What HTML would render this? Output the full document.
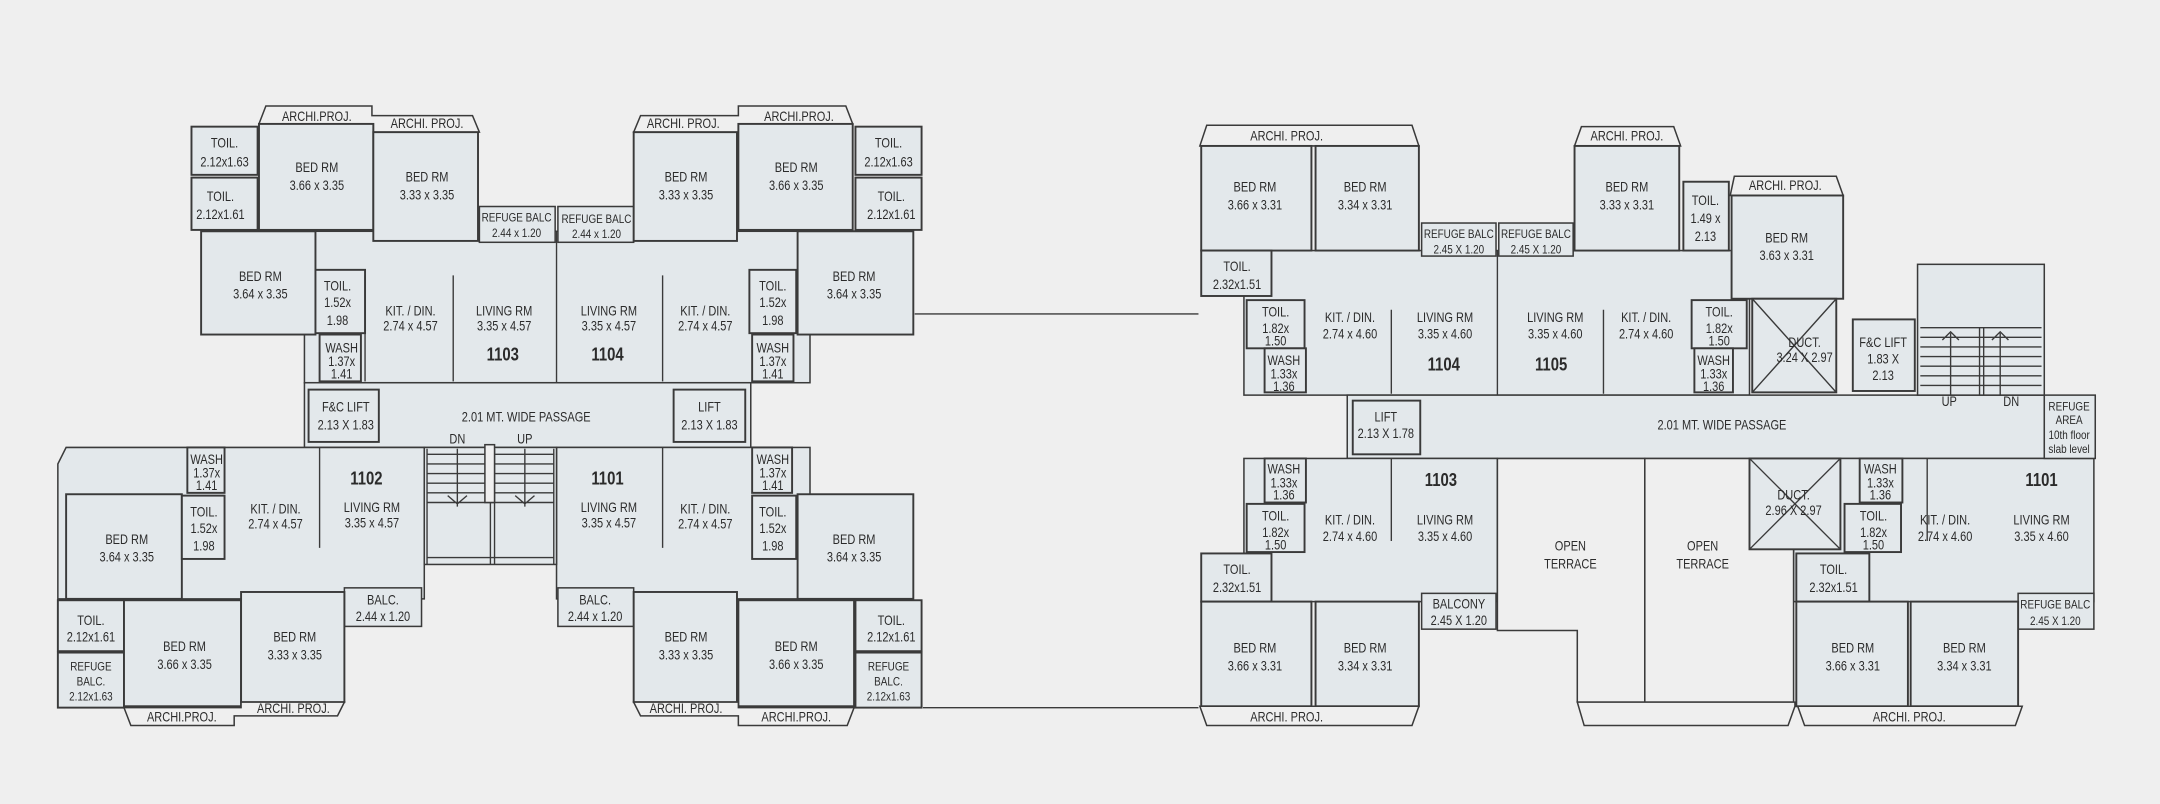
<!DOCTYPE html>
<html><head><meta charset="utf-8"><style>
html,body{margin:0;padding:0;background:#efefef;}
svg{display:block}
.b{fill:#e3e8eb;stroke:#3a3a3a;stroke-width:1.1}
.r{fill:#e3e8eb;stroke:#3a3a3a;stroke-width:1.4}
.t{fill:#e3e8eb;stroke:#3a3a3a;stroke-width:1.1}
.o{fill:#efefef;stroke:#3a3a3a;stroke-width:1.1}
.l{fill:none;stroke:#3a3a3a;stroke-width:1}
text{font-family:"Liberation Sans Narrow","Liberation Sans",sans-serif;font-size:10px;fill:#2b2b2b;text-anchor:middle;transform-box:fill-box;transform-origin:center;transform:scaleX(0.8)}
.n{font-size:13.5px;font-weight:bold}
.s{font-size:9px}
</style></head><body>
<svg width="2160" height="804" viewBox="0 0 1568 584" preserveAspectRatio="none" xmlns="http://www.w3.org/2000/svg">
<rect width="1568" height="584" fill="#efefef"/>
<path class="l" d="M664 228H870M670 514H870"/>

<!-- ===== LEFT BUILDING ===== -->
<path class="o" d="M188 90L193 77H270V84H343L348 96H271V90Z"/>
<path class="o" d="M460 96L465 84H536V77H614L619 90H536V96Z"/>
<text x="230" y="88">ARCHI.PROJ.</text><text x="310" y="93">ARCHI. PROJ.</text>
<text x="496" y="93">ARCHI. PROJ.</text><text x="580" y="88">ARCHI.PROJ.</text>
<rect class="b" x="221" y="168" width="367" height="110"/>
<rect class="b" x="221" y="278" width="324" height="47"/>
<path class="b" d="M48 325H308V435H42V337Z"/>
<rect class="b" x="404" y="325" width="184" height="110"/>
<rect class="b" x="308" y="325" width="96" height="85"/>
<rect class="r" x="139" y="92" width="48" height="35"/><text x="163" y="107">TOIL.</text><text x="163" y="121">2.12x1.63</text>
<rect class="r" x="139" y="129" width="48" height="38"/><text x="160" y="146">TOIL.</text><text x="160" y="159">2.12x1.61</text>
<rect class="r" x="188" y="90" width="83" height="77"/><text x="230" y="125">BED RM</text><text x="230" y="138">3.66 x 3.35</text>
<rect class="r" x="271" y="96" width="76" height="79"/><text x="310" y="132">BED RM</text><text x="310" y="145">3.33 x 3.35</text>
<rect class="t" x="348" y="150" width="55" height="26"/><text class="s" x="375" y="161">REFUGE BALC</text><text class="s" x="375" y="172">2.44 x 1.20</text>
<rect class="t" x="405" y="150" width="55" height="26"/><text class="s" x="433" y="162">REFUGE BALC</text><text class="s" x="433" y="173">2.44 x 1.20</text>
<rect class="r" x="460" y="96" width="75" height="79"/><text x="498" y="132">BED RM</text><text x="498" y="145">3.33 x 3.35</text>
<rect class="r" x="536" y="90" width="83" height="77"/><text x="578" y="125">BED RM</text><text x="578" y="138">3.66 x 3.35</text>
<rect class="r" x="621" y="92" width="48" height="35"/><text x="645" y="107">TOIL.</text><text x="645" y="121">2.12x1.63</text>
<rect class="r" x="621" y="129" width="48" height="38"/><text x="647" y="146">TOIL.</text><text x="647" y="159">2.12x1.61</text>
<rect class="r" x="146" y="168" width="83" height="75"/><text x="189" y="204">BED RM</text><text x="189" y="217">3.64 x 3.35</text>
<rect class="r" x="229" y="196" width="36" height="46"/><text x="245" y="211">TOIL.</text><text x="245" y="223">1.52x</text><text x="245" y="236">1.98</text>
<rect class="r" x="232" y="243" width="30" height="34"/><text x="248" y="256">WASH</text><text x="248" y="266">1.37x</text><text x="248" y="275">1.41</text>
<path class="l" d="M265 200V277M329 200V277M404 168V278M481 200V277"/>
<text x="298" y="229">KIT. / DIN.</text><text x="298" y="240">2.74 x 4.57</text>
<text x="366" y="229">LIVING RM</text><text x="366" y="240">3.35 x 4.57</text>
<text class="n" x="365" y="262">1103</text>
<text x="442" y="229">LIVING RM</text><text x="442" y="240">3.35 x 4.57</text>
<text class="n" x="441" y="262">1104</text>
<text x="512" y="229">KIT. / DIN.</text><text x="512" y="240">2.74 x 4.57</text>
<rect class="r" x="544" y="196" width="34" height="46"/><text x="561" y="211">TOIL.</text><text x="561" y="223">1.52x</text><text x="561" y="236">1.98</text>
<rect class="r" x="546" y="243" width="30" height="34"/><text x="561" y="256">WASH</text><text x="561" y="266">1.37x</text><text x="561" y="275">1.41</text>
<rect class="r" x="579" y="168" width="84" height="75"/><text x="620" y="204">BED RM</text><text x="620" y="217">3.64 x 3.35</text>
<rect class="r" x="224" y="283" width="51" height="38"/><text x="251" y="299">F&amp;C LIFT</text><text x="251" y="312">2.13 X 1.83</text>
<rect class="r" x="489" y="283" width="52" height="38"/><text x="515" y="299">LIFT</text><text x="515" y="312">2.13 X 1.83</text>
<text x="382" y="306">2.01  MT.  WIDE  PASSAGE</text>
<text x="332" y="322">DN</text><text x="381" y="322">UP</text>
<path class="l" d="M310 326V410M402 326V410M310 330H402M310 337H402M310 344H402M310 351H402M310 358H402M310 365H402M356 326V410M359 326V410M332 326V368M381 326V368M325 360L332 366L339 360M374 360L381 366L388 360M310 405H402"/>
<rect class="o" x="352" y="323" width="7" height="42" fill="#e3e8eb"/>
<rect class="r" x="136" y="325" width="27" height="33"/><text x="150" y="337">WASH</text><text x="150" y="347">1.37x</text><text x="150" y="356">1.41</text>
<rect class="r" x="48" y="359" width="84" height="76"/><text x="92" y="395">BED RM</text><text x="92" y="408">3.64 x 3.35</text>
<rect class="r" x="132" y="360" width="31" height="46"/><text x="148" y="375">TOIL.</text><text x="148" y="387">1.52x</text><text x="148" y="400">1.98</text>
<path class="l" d="M232 325V398M481 325V398"/>
<text x="200" y="373">KIT. / DIN.</text><text x="200" y="384">2.74 x 4.57</text>
<text class="n" x="266" y="352">1102</text>
<text x="270" y="372">LIVING RM</text><text x="270" y="383">3.35 x 4.57</text>
<text class="n" x="441" y="352">1101</text>
<text x="442" y="372">LIVING RM</text><text x="442" y="383">3.35 x 4.57</text>
<text x="512" y="373">KIT. / DIN.</text><text x="512" y="384">2.74 x 4.57</text>
<rect class="r" x="546" y="325" width="29" height="33"/><text x="561" y="337">WASH</text><text x="561" y="347">1.37x</text><text x="561" y="356">1.41</text>
<rect class="r" x="546" y="360" width="32" height="46"/><text x="561" y="375">TOIL.</text><text x="561" y="387">1.52x</text><text x="561" y="400">1.98</text>
<rect class="r" x="579" y="359" width="84" height="76"/><text x="620" y="395">BED RM</text><text x="620" y="408">3.64 x 3.35</text>
<rect class="t" x="250" y="427" width="56" height="28"/><text x="278" y="439">BALC.</text><text x="278" y="451">2.44 x 1.20</text>
<rect class="t" x="405" y="427" width="55" height="28"/><text x="432" y="439">BALC.</text><text x="432" y="451">2.44 x 1.20</text>
<rect class="r" x="42" y="436" width="48" height="37"/><text x="66" y="454">TOIL.</text><text x="66" y="466">2.12x1.61</text>
<rect class="r" x="42" y="474" width="48" height="40"/><text class="s" x="66" y="487">REFUGE</text><text class="s" x="66" y="498">BALC.</text><text class="s" x="66" y="509">2.12x1.63</text>
<rect class="r" x="90" y="436" width="85" height="77"/><text x="134" y="473">BED RM</text><text x="134" y="486">3.66 x 3.35</text>
<rect class="r" x="175" y="430" width="75" height="80"/><text x="214" y="466">BED RM</text><text x="214" y="479">3.33 x 3.35</text>
<rect class="r" x="460" y="430" width="75" height="80"/><text x="498" y="466">BED RM</text><text x="498" y="479">3.33 x 3.35</text>
<rect class="r" x="536" y="436" width="84" height="77"/><text x="578" y="473">BED RM</text><text x="578" y="486">3.66 x 3.35</text>
<rect class="r" x="621" y="436" width="48" height="37"/><text x="647" y="454">TOIL.</text><text x="647" y="466">2.12x1.61</text>
<rect class="r" x="621" y="474" width="48" height="40"/><text class="s" x="645" y="487">REFUGE</text><text class="s" x="645" y="498">BALC.</text><text class="s" x="645" y="509">2.12x1.63</text>
<path class="o" d="M90 514L95 527H170V520H245L250 510H175V514Z"/>
<path class="o" d="M460 510L465 520H536V527H615L620 514H536V510Z"/>
<text x="132" y="524">ARCHI.PROJ.</text><text x="213" y="518">ARCHI. PROJ.</text>
<text x="498" y="518">ARCHI. PROJ.</text><text x="578" y="524">ARCHI.PROJ.</text>

<!-- ===== RIGHT BUILDING ===== -->
<path class="o" d="M871 106L876 91H1025L1030 106Z"/><text x="934" y="102">ARCHI. PROJ.</text>
<path class="o" d="M1143 106L1148 92H1215L1220 106Z"/><text x="1181" y="102">ARCHI. PROJ.</text>
<path class="o" d="M1256 142L1259 128H1333L1338 142Z"/><text x="1296" y="138">ARCHI. PROJ.</text>
<rect class="b" x="903" y="182" width="367" height="105"/>
<rect class="b" x="978" y="287" width="506" height="46"/>
<rect class="b" x="903" y="333" width="184" height="104"/>
<rect class="b" x="1302" y="333" width="218" height="104"/>
<rect class="r" x="872" y="106" width="80" height="76"/><text x="911" y="139">BED RM</text><text x="911" y="152">3.66 x 3.31</text>
<rect class="r" x="955" y="106" width="75" height="76"/><text x="991" y="139">BED RM</text><text x="991" y="152">3.34 x 3.31</text>
<rect class="r" x="872" y="182" width="51" height="33"/><text x="898" y="197">TOIL.</text><text x="898" y="210">2.32x1.51</text>
<rect class="t" x="1032" y="162" width="54" height="24"/><text class="s" x="1059" y="173">REFUGE BALC</text><text class="s" x="1059" y="184">2.45 X 1.20</text>
<rect class="t" x="1088" y="162" width="54" height="24"/><text class="s" x="1115" y="173">REFUGE BALC</text><text class="s" x="1115" y="184">2.45 X 1.20</text>
<rect class="r" x="1143" y="106" width="76" height="76"/><text x="1181" y="139">BED RM</text><text x="1181" y="152">3.33 x 3.31</text>
<rect class="r" x="1222" y="132" width="33" height="50"/><text x="1238" y="149">TOIL.</text><text x="1238" y="162">1.49 x</text><text x="1238" y="175">2.13</text>
<rect class="r" x="1257" y="142" width="81" height="75"/><text x="1297" y="176">BED RM</text><text x="1297" y="189">3.63 x 3.31</text>
<rect class="r" x="905" y="218" width="42" height="35"/><text x="926" y="230">TOIL.</text><text x="926" y="242">1.82x</text><text x="926" y="251">1.50</text>
<rect class="r" x="918" y="253" width="30" height="32"/><text x="932" y="265">WASH</text><text x="932" y="275">1.33x</text><text x="932" y="284">1.36</text>
<path class="l" d="M1010 225V286M1087 182V287M1164 225V286"/>
<text x="980" y="234">KIT. / DIN.</text><text x="980" y="246">2.74 x 4.60</text>
<text x="1049" y="234">LIVING RM</text><text x="1049" y="246">3.35 x 4.60</text>
<text class="n" x="1048" y="269">1104</text>
<text x="1129" y="234">LIVING RM</text><text x="1129" y="246">3.35 x 4.60</text>
<text class="n" x="1126" y="269">1105</text>
<text x="1195" y="234">KIT. / DIN.</text><text x="1195" y="246">2.74 x 4.60</text>
<rect class="r" x="1228" y="218" width="40" height="35"/><text x="1248" y="230">TOIL.</text><text x="1248" y="242">1.82x</text><text x="1248" y="251">1.50</text>
<rect class="r" x="1230" y="253" width="28" height="32"/><text x="1244" y="265">WASH</text><text x="1244" y="275">1.33x</text><text x="1244" y="284">1.36</text>
<rect class="r" x="1272" y="217" width="61" height="68"/><path class="l" d="M1272 217L1333 285M1333 217L1272 285"/>
<text x="1310" y="252">DUCT.</text><text x="1310" y="263">3.24 X 2.97</text>
<rect class="r" x="1345" y="232" width="45" height="52"/><text x="1367" y="252">F&amp;C LIFT</text><text x="1367" y="264">1.83 X</text><text x="1367" y="276">2.13</text>
<rect class="b" x="1392" y="192" width="92" height="95"/>
<path class="l" d="M1394 238H1482M1394 245H1482M1394 252H1482M1394 259H1482M1394 266H1482M1394 273H1482M1394 280H1482M1437 238V287M1440 238V287M1416 242V287M1452 242V287M1410 247L1416 241L1422 247M1446 247L1452 241L1458 247"/>
<text x="1415" y="295">UP</text><text x="1460" y="295">DN</text>
<rect class="r" x="982" y="291" width="49" height="39"/><text x="1006" y="306">LIFT</text><text x="1006" y="318">2.13 X 1.78</text>
<text x="1250" y="312">2.01  MT.  WIDE  PASSAGE</text>
<rect class="t" x="1484" y="287" width="37" height="46"/><text class="s" x="1502" y="298">REFUGE</text><text class="s" x="1502" y="308">AREA</text><text class="s" x="1502" y="319">10th floor</text><text class="s" x="1502" y="329">slab level</text>
<rect class="r" x="918" y="333" width="30" height="32"/><text x="932" y="344">WASH</text><text x="932" y="354">1.33x</text><text x="932" y="363">1.36</text>
<rect class="r" x="905" y="366" width="42" height="35"/><text x="926" y="378">TOIL.</text><text x="926" y="390">1.82x</text><text x="926" y="399">1.50</text>
<path class="l" d="M1010 333V393M1399 333V393"/>
<text x="980" y="381">KIT. / DIN.</text><text x="980" y="393">2.74 x 4.60</text>
<text class="n" x="1046" y="353">1103</text>
<text x="1049" y="381">LIVING RM</text><text x="1049" y="393">3.35 x 4.60</text>
<rect class="r" x="872" y="402" width="51" height="35"/><text x="898" y="417">TOIL.</text><text x="898" y="430">2.32x1.51</text>
<rect class="r" x="872" y="437" width="80" height="76"/><text x="911" y="474">BED RM</text><text x="911" y="487">3.66 x 3.31</text>
<rect class="r" x="955" y="437" width="75" height="76"/><text x="991" y="474">BED RM</text><text x="991" y="487">3.34 x 3.31</text>
<rect class="t" x="1032" y="431" width="54" height="26"/><text x="1059" y="442">BALCONY</text><text x="1059" y="454">2.45 X 1.20</text>
<path class="o" d="M1087 333H1194V510H1145V458H1087Z"/>
<path class="o" d="M1194 333H1302V510H1194Z"/>
<text x="1140" y="400">OPEN</text><text x="1140" y="413">TERRACE</text>
<text x="1236" y="400">OPEN</text><text x="1236" y="413">TERRACE</text>
<rect class="r" x="1270" y="333" width="66" height="66"/><path class="l" d="M1270 333L1336 399M1336 333L1270 399"/>
<text x="1302" y="363">DUCT.</text><text x="1302" y="374">2.96 X 2.97</text>
<rect class="r" x="1350" y="333" width="31" height="32"/><text x="1365" y="344">WASH</text><text x="1365" y="354">1.33x</text><text x="1365" y="363">1.36</text>
<rect class="r" x="1339" y="366" width="41" height="35"/><text x="1360" y="378">TOIL.</text><text x="1360" y="390">1.82x</text><text x="1360" y="399">1.50</text>
<text x="1412" y="381">KIT. / DIN.</text><text x="1412" y="393">2.74 x 4.60</text>
<text class="n" x="1482" y="353">1101</text>
<text x="1482" y="381">LIVING RM</text><text x="1482" y="393">3.35 x 4.60</text>
<rect class="r" x="1304" y="402" width="53" height="35"/><text x="1331" y="417">TOIL.</text><text x="1331" y="430">2.32x1.51</text>
<rect class="t" x="1465" y="431" width="55" height="26"/><text class="s" x="1492" y="442">REFUGE BALC</text><text class="s" x="1492" y="454">2.45 X 1.20</text>
<rect class="r" x="1304" y="437" width="81" height="76"/><text x="1345" y="474">BED RM</text><text x="1345" y="487">3.66 x 3.31</text>
<rect class="r" x="1387" y="437" width="78" height="76"/><text x="1426" y="474">BED RM</text><text x="1426" y="487">3.34 x 3.31</text>
<path class="o" d="M871 513L876 527H1025L1030 513Z"/><text x="934" y="524">ARCHI. PROJ.</text>
<path class="o" d="M1145 510L1150 527H1298L1303 513V510Z"/>
<path class="o" d="M1305 513L1310 527H1463L1468 513Z"/><text x="1386" y="524">ARCHI. PROJ.</text>
</svg>
</body></html>
